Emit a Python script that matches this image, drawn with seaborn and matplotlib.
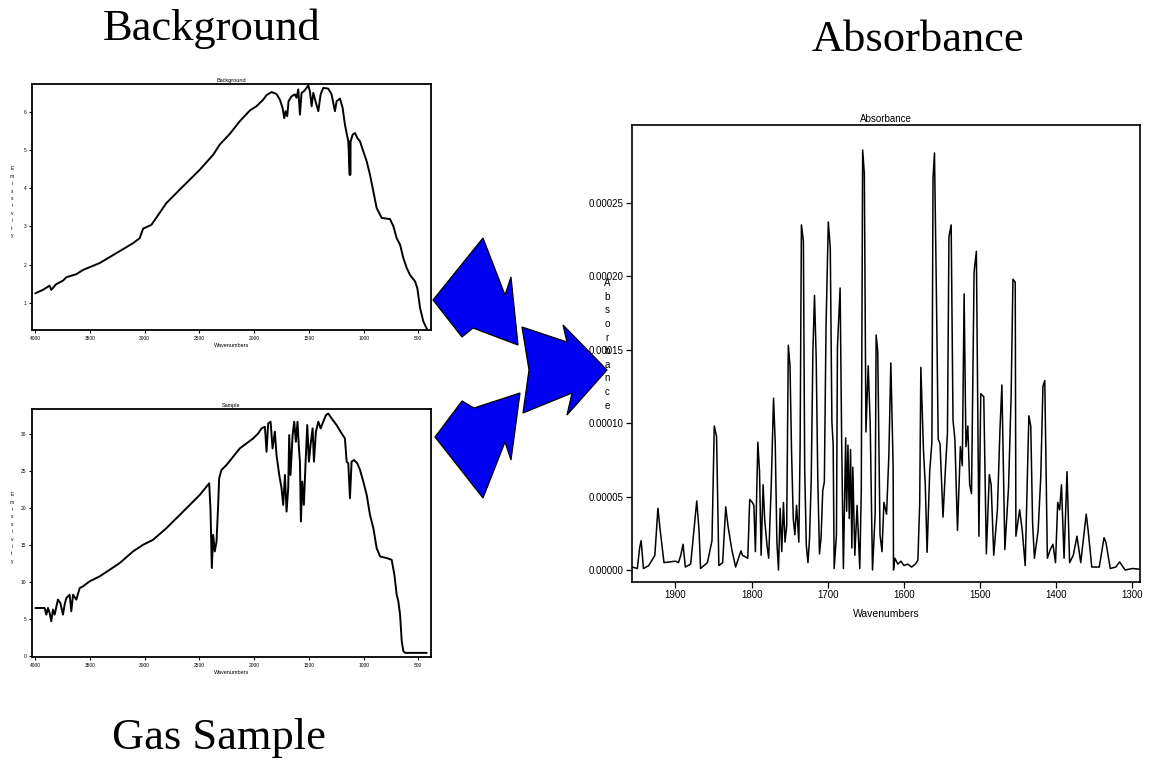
import numpy as np
import pandas as pd
import matplotlib
matplotlib.use("Agg")
import matplotlib.pyplot as plt
from matplotlib.patches import Polygon
import seaborn as sns

# background single beam (wavenumber, emissivity)
bg_wn = [4000, 3930, 3869, 3854, 3808, 3747, 3716, 3625, 3564, 3412, 3259, 3107, 3046, 3015,
         2939, 2893, 2802, 2649, 2497, 2375, 2314, 2222, 2131, 2039, 1979, 1918, 1887, 1841,
         1796, 1765, 1741, 1725, 1713, 1698, 1686, 1658, 1628, 1613, 1597, 1582, 1567, 1546,
         1521, 1506, 1491, 1475, 1460, 1436, 1414, 1393, 1369, 1323, 1293, 1262, 1247, 1216,
         1192, 1171, 1140, 1127, 1125, 1122, 1119, 1100, 1079, 1058, 1033, 1003, 972, 942, 911,
         881, 835, 759, 728, 698, 667, 637, 606, 576, 530, 509, 484, 454, 417]
bg_val = [1.25, 1.34, 1.45, 1.34, 1.49, 1.58, 1.67, 1.75, 1.86, 2.04, 2.30, 2.56, 2.69, 2.94,
          3.04, 3.23, 3.61, 4.05, 4.48, 4.87, 5.14, 5.42, 5.75, 6.03, 6.14, 6.31, 6.43, 6.51,
          6.46, 6.31, 6.10, 5.83, 6.01, 5.88, 6.27, 6.40, 6.45, 6.36, 6.58, 5.92, 6.49, 6.53,
          6.62, 6.69, 6.53, 6.14, 6.49, 6.23, 6.01, 6.45, 6.62, 6.60, 6.45, 6.01, 6.27, 6.34,
          6.10, 5.66, 5.22, 4.35, 5.22, 4.35, 5.22, 5.40, 5.44, 5.31, 5.22, 4.96, 4.70, 4.35, 3.91,
          3.48, 3.22, 3.19, 3.00, 2.69, 2.52, 2.17, 1.91, 1.73, 1.56, 1.38, 0.86, 0.51, 0.29]

# gas sample single beam
sm_wn = [4000, 3915, 3899, 3884, 3869, 3854, 3838, 3823, 3793, 3771, 3747, 3732, 3716, 3686,
         3671, 3655, 3625, 3594, 3564, 3503, 3412, 3320, 3229, 3107, 3015, 2924, 2802, 2649,
         2497, 2411, 2399, 2387, 2375, 2360, 2344, 2329, 2320, 2299, 2253, 2192, 2131, 2070,
         2009, 1963, 1933, 1902, 1887, 1872, 1850, 1832, 1811, 1796, 1771, 1750, 1735, 1719,
         1704, 1689, 1680, 1668, 1649, 1634, 1619, 1604, 1591, 1582, 1573, 1561, 1546, 1530,
         1515, 1500, 1485, 1466, 1454, 1436, 1414, 1393, 1369, 1344, 1323, 1293, 1247, 1201,
         1171, 1155, 1140, 1125, 1110, 1088, 1058, 1033, 1003, 972, 942, 911, 881, 850, 789,
         744, 719, 698, 683, 667, 652, 637, 622, 424]
sm_val = [6.44, 6.44, 5.54, 6.44, 5.77, 4.64, 6.22, 5.54, 7.57, 7.12, 5.54, 6.89, 7.79, 8.24,
          5.99, 8.24, 7.57, 9.14, 9.37, 10.05, 10.72, 11.62, 12.52, 14.10, 15.00, 15.68, 17.25, 19.50,
          21.76, 23.33, 19.73, 11.85, 16.35, 14.10, 15.45, 20.41, 24.01, 25.14, 25.81, 26.94, 28.06, 28.74,
          29.41, 30.09, 30.77, 30.99, 27.61, 31.44, 31.67, 28.06, 30.32, 27.16, 24.46, 22.66, 20.41, 24.46,
          19.50, 22.66, 29.86, 24.46, 29.86, 31.67, 28.96, 31.67, 28.06, 26.26, 18.15, 23.56, 20.41, 26.26,
          31.22, 26.26, 28.51, 30.77, 26.26, 30.32, 31.67, 30.77, 31.67, 32.57, 32.79, 32.12, 31.22, 30.09,
          29.41, 26.26, 26.04, 21.31, 26.26, 26.49, 26.04, 25.14, 23.56, 21.76, 19.05, 17.25, 14.55, 13.42, 13.20,
          12.97, 10.95, 8.24, 7.34, 5.54, 1.94, 0.59, 0.36, 0.36]

# absorbance spectrum, values in units of 1e-5
ab_wn = [1957, 1950, 1947, 1945, 1942, 1935, 1927, 1923, 1920, 1915, 1900, 1896, 1893, 1890, 1887,
         1880, 1875, 1872, 1869, 1867, 1858, 1852, 1849, 1846, 1843, 1838, 1834, 1831, 1826, 1821,
         1814, 1812, 1805, 1802.5, 1799, 1797, 1795, 1793, 1791.8, 1789.6, 1787.5, 1784.9, 1782.8,
         1779.8, 1777.6, 1774.2, 1771.2, 1769, 1766.8, 1764.7, 1762.5, 1760.4, 1758.2, 1756.1, 1753.9,
         1751.8, 1749.6, 1747.5, 1745.3, 1743.2, 1741.0, 1738.0, 1736.3, 1734.6, 1732, 1730.3, 1728.2,
         1726, 1723.9, 1721.7, 1719.5, 1717.4, 1715.2, 1713.1, 1710.9, 1708.8, 1706.6, 1704.5, 1702.3,
         1699.3, 1696.7, 1694.6, 1692.9, 1691.6, 1688.6, 1687.3, 1683.8, 1681.7, 1679.5, 1676.5, 1675.2,
         1673.5, 1671.8, 1670.1, 1668.4, 1667.1, 1664.5, 1661.5, 1658, 1656, 1654.2, 1652, 1649.9,
         1646.9, 1644.3, 1641.3, 1637.8, 1636.5, 1634.4, 1631.4, 1628.8, 1626.3, 1622.8, 1619.8, 1617.2,
         1614.2, 1613.7, 1612, 1608, 1604, 1600, 1595, 1590, 1585, 1581.7, 1579.3, 1577.8, 1574.4, 1572,
         1569.6, 1566.2, 1563.3, 1561.8, 1559.9, 1557.4, 1555, 1552.6, 1548.7, 1545.3, 1542.9, 1540.9,
         1538, 1535.6, 1533.1, 1529.7, 1525.9, 1523.4, 1521, 1518.6, 1516.1, 1513.7, 1511.3, 1507.9,
         1504.9, 1501.6, 1499.1, 1495.2, 1491.8, 1487.9, 1485.5, 1482.1, 1477.3, 1473.9, 1471.4, 1467.5,
         1462.7, 1459.3, 1456.9, 1453.9, 1453, 1448.1, 1444.7, 1440.8, 1436, 1433.5, 1431.1, 1428.7,
         1423.8, 1420.4, 1417.5, 1415.1, 1411.7, 1407.8, 1404.4, 1401, 1398.1, 1395.6, 1393.2, 1389.8,
         1385.9, 1382.5, 1377.7, 1372.8, 1367.9, 1363.1, 1360.7, 1358.2, 1353.4, 1343.6, 1337.3, 1334.9,
         1329.1, 1321.8, 1316.9, 1309.6, 1300, 1290]
ab_e5 = [0.2, 0.1, 1.5, 2.0, 0.1, 0.3, 1.0, 4.2, 2.7, 0.5, 0.6, 0.5, 1.0, 1.75, 0.2,
         0.4, 3.1, 4.7, 2.7, 0.1, 0.5, 2.0, 9.8, 9.1, 0.3, 0.5, 4.3, 3.0, 1.4, 0.2,
         1.3, 1.0, 0.8, 4.8, 4.6, 4.4, 1.25, 6.0, 8.7, 6.7, 1.0, 5.8, 3.4,
         1.7, 0.8, 5.8, 11.7, 8.7, 1.9, 0.0, 4.2, 1.25, 4.6, 1.9, 3.0,
         15.3, 13.9, 7.95, 3.5, 2.4, 4.4, 1.9, 8.5, 23.5, 22.4, 6.9, 1.7,
         0.5, 2.2, 6.2, 15.0, 18.7, 14.4, 6.2, 1.1, 2.2, 5.4, 6.0, 16.5,
         23.7, 21.9, 10.1, 8.5, 0.1, 2.4, 15.2, 19.2, 8.5, 0.1, 9.0, 4.0,
         8.5, 3.5, 8.2, 1.5, 7.0, 1.0, 4.4, 0.1, 5.4, 28.6, 27.0, 9.4,
         13.9, 10.0, 0.0, 3.8, 16.0, 14.9, 2.4, 1.25, 4.6, 3.8, 7.8, 14.1,
         7.1, 0.0, 0.8, 0.4, 0.6, 0.3, 0.4, 0.2, 0.4, 0.66, 4.5, 13.8, 8.2, 5.8,
         1.2, 6.7, 8.7, 26.7, 28.4, 18.9, 8.9, 8.6, 3.6, 7.1, 9.3, 22.7,
         23.5, 10.2, 8.9, 2.7, 8.4, 7.1, 18.8, 8.4, 9.8, 5.8, 5.2, 20.3,
         21.7, 2.3, 12.0, 11.8, 1.1, 6.5, 5.8, 1.0, 4.1, 9.6, 12.6, 1.4,
         5.6, 11.8, 19.8, 19.6, 2.3, 4.1, 2.7, 0.3, 10.5, 9.8, 3.2, 0.8,
         2.7, 6.3, 12.5, 12.9, 0.8, 1.4, 1.75, 0.5, 4.6, 4.1, 5.8, 0.8,
         6.7, 0.5, 1.0, 2.3, 0.5, 2.7, 3.8, 2.7, 0.2, 0.2, 2.2, 1.9,
         0.1, 0.2, 0.55, 0.0, 0.1, 0.05]

wide_ticks = [4000, 3500, 3000, 2500, 2000, 1500, 1000, 500]
bg_ticks = [1, 2, 3, 4, 5, 6]
sm_ticks = [0, 5, 10, 15, 20, 25, 30]
ab_xticks = [1900, 1800, 1700, 1600, 1500, 1400, 1300]
ab_yticks_e5 = [0, 5, 10, 15, 20, 25]

sns.set_style("white")
plt.rcParams['font.family'] = ['Liberation Sans', 'DejaVu Sans']
plt.rcParams['text.color'] = 'black'
plt.rcParams['axes.labelcolor'] = 'black'
plt.rcParams['xtick.color'] = 'black'
plt.rcParams['ytick.color'] = 'black'

fig = plt.figure(figsize=(11.51, 7.62), dpi=100)

# overlay for the blue arrows (pixel coordinates of the slide)
deco = fig.add_axes([0, 0, 1, 1], zorder=0)
deco.set_xlim(0, 1151)
deco.set_ylim(762, 0)
deco.axis("off")
arrow_blue = "#0000f2"
up_arrow = [(433, 300), (483, 238), (505, 295), (511, 277), (518, 345), (473, 328), (462, 337)]
low_arrow = [(435, 437), (483, 498), (505, 442), (511, 460), (520, 393), (474, 408), (462, 401)]
right_arrow = [(522, 327), (567, 342), (563, 325), (607, 370), (567, 415), (572, 393), (523, 413), (529, 370)]
for pts in (up_arrow, low_arrow, right_arrow):
    deco.add_patch(Polygon(pts, closed=True, facecolor=arrow_blue, edgecolor="black", lw=0.9))


def small_panel(ax, wn, val, title, ylabel, yticks, ylim):
    sns.lineplot(x=wn, y=val, ax=ax, sort=False, estimator=None, color="black", lw=1.4)
    ax.set_xlim(4030, 384)
    ax.set_ylim(*ylim)
    ax.set_xticks(wide_ticks)
    ax.set_yticks(yticks)
    ax.tick_params(labelsize=3.5, length=2.5, width=0.8, direction="out", pad=1.5,
                   bottom=True, left=True)
    ax.set_title(title, fontsize=4, pad=1.5)
    ax.set_xlabel("Wavenumbers", fontsize=4, labelpad=2)
    ax.set_ylabel("\n".join(ylabel), fontsize=3.5, rotation=0, va="center", linespacing=1.6)
    ax.yaxis.set_label_coords(-0.05, 0.52)
    for s in ax.spines.values():
        s.set_color("black")
        s.set_linewidth(1.3)


ax_bg = fig.add_axes([0.0278, 0.5669, 0.3467, 0.3228], zorder=1)
small_panel(ax_bg, bg_wn, bg_val, "Background", "Emissivity", bg_ticks, (0.29, 6.72))

ax_sm = fig.add_axes([0.0278, 0.1378, 0.3467, 0.3255], zorder=1)
small_panel(ax_sm, sm_wn, sm_val, "Sample", "Emissivity", sm_ticks, (-0.2, 33.4))

ax_ab = fig.add_axes([0.5491, 0.2362, 0.4414, 0.5997], zorder=1)
ab = pd.DataFrame({"Wavenumbers": ab_wn, "Absorbance": np.array(ab_e5) * 1e-5})
sns.lineplot(data=ab, x="Wavenumbers", y="Absorbance", ax=ax_ab, sort=False, estimator=None,
             color="black", lw=1.1)
ax_ab.set_xlim(1957, 1290)
ax_ab.set_ylim(-0.0000082, 0.000303)
ax_ab.set_xticks(ab_xticks)
ax_ab.set_yticks([v * 1e-5 for v in ab_yticks_e5])
ax_ab.set_yticklabels([f"{v * 1e-5:.5f}" for v in ab_yticks_e5])
ax_ab.tick_params(labelsize=7, length=4, width=0.9, direction="out", pad=2,
                  bottom=True, left=True)
ax_ab.set_title("Absorbance", fontsize=7, pad=2)
ax_ab.set_xlabel("Wavenumbers", fontsize=7.5, labelpad=6)
ax_ab.set_ylabel("\n".join("Absorbance"), fontsize=7, rotation=0, va="center", linespacing=1.45)
ax_ab.yaxis.set_label_coords(-0.049, 0.52)
for s in ax_ab.spines.values():
    s.set_color("black")
    s.set_linewidth(1.2)

serif = ["Liberation Serif", "DejaVu Serif"]
fig.text(0.184, 0.962, "Background", fontsize=32, family=serif, ha="center", va="center")
fig.text(0.7976, 0.9475, "Absorbance", fontsize=32, family=serif, ha="center", va="center")
fig.text(0.190, 0.0315, "Gas Sample", fontsize=32, family=serif, ha="center", va="center")

fig.savefig("out.png", dpi=100, facecolor="white")
